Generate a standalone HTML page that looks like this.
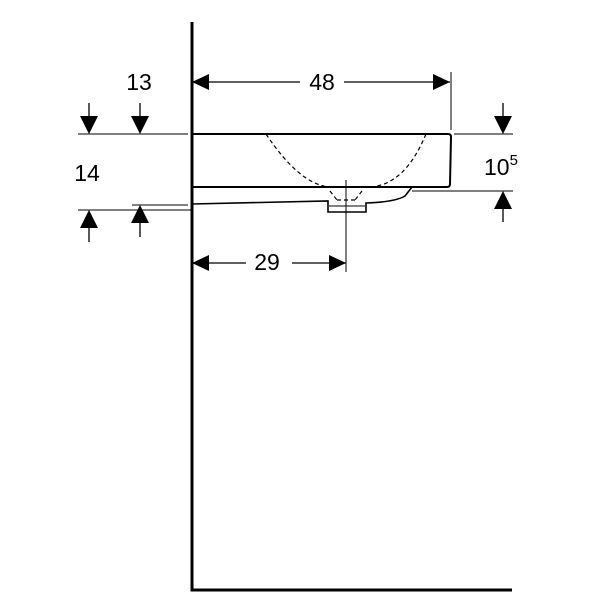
<!DOCTYPE html>
<html><head><style>body{margin:0;background:#fff}svg{display:block}text{font-family:"Liberation Sans",sans-serif;fill:#000}</style></head><body>
<svg width="600" height="600" viewBox="0 0 600 600">
<g stroke="#000" fill="none">
<path d="M192 22V590H512" stroke-width="3"/>
<path d="M192 134H448Q451 134 451 137L450 184Q450 187 447 187H192" stroke-width="2"/>
<path d="M192 204L328 201V212H366V203Q395 202 405 196L412 187" stroke-width="1.6"/>
<path d="M329 206H365" stroke-width="1"/>
<path d="M266 134Q300 185 330 187M426 134Q405 185 370 187M310 187H390M330 191L337 200M362 191L355 200M337 200H355" stroke-width="1.2" stroke-dasharray="4,3"/>
<path d="M346 180V272" stroke-width="1"/>
<path d="M78 134H188M454 134H513M412 191H513M78 210H192M132 205H188M451 72V130" stroke-width="1"/>
<path d="M192 82H300M344 82H450M192 263H246M292 263H346" stroke-width="1.3"/>
<path d="M89 103V125M140 103V125M89 218V242M140 213V237M503 103V125M503 200V222" stroke-width="1.3"/>
</g>
<g fill="#000">
<path d="M192 82l17-8v16zM450 82l-17-8v16zM192 263l17-8v16zM346 263l-17-8v16z"/>
<path d="M89 134l-9-18h18zM140 134l-9-18h18zM503 134l-9-18h18z"/>
<path d="M89 210l-9 18h18zM140 205l-9 18h18zM503 191l-9 18h18z"/>
</g>
<text x="139" y="90" font-size="23" text-anchor="middle">13</text>
<text x="322" y="90" font-size="23" text-anchor="middle">48</text>
<text x="87" y="181" font-size="23" text-anchor="middle">14</text>
<text x="267" y="270" font-size="23" text-anchor="middle">29</text>
<text x="484" y="175" font-size="23">10<tspan font-size="15" dy="-10">5</tspan></text>
</svg>
</body></html>
